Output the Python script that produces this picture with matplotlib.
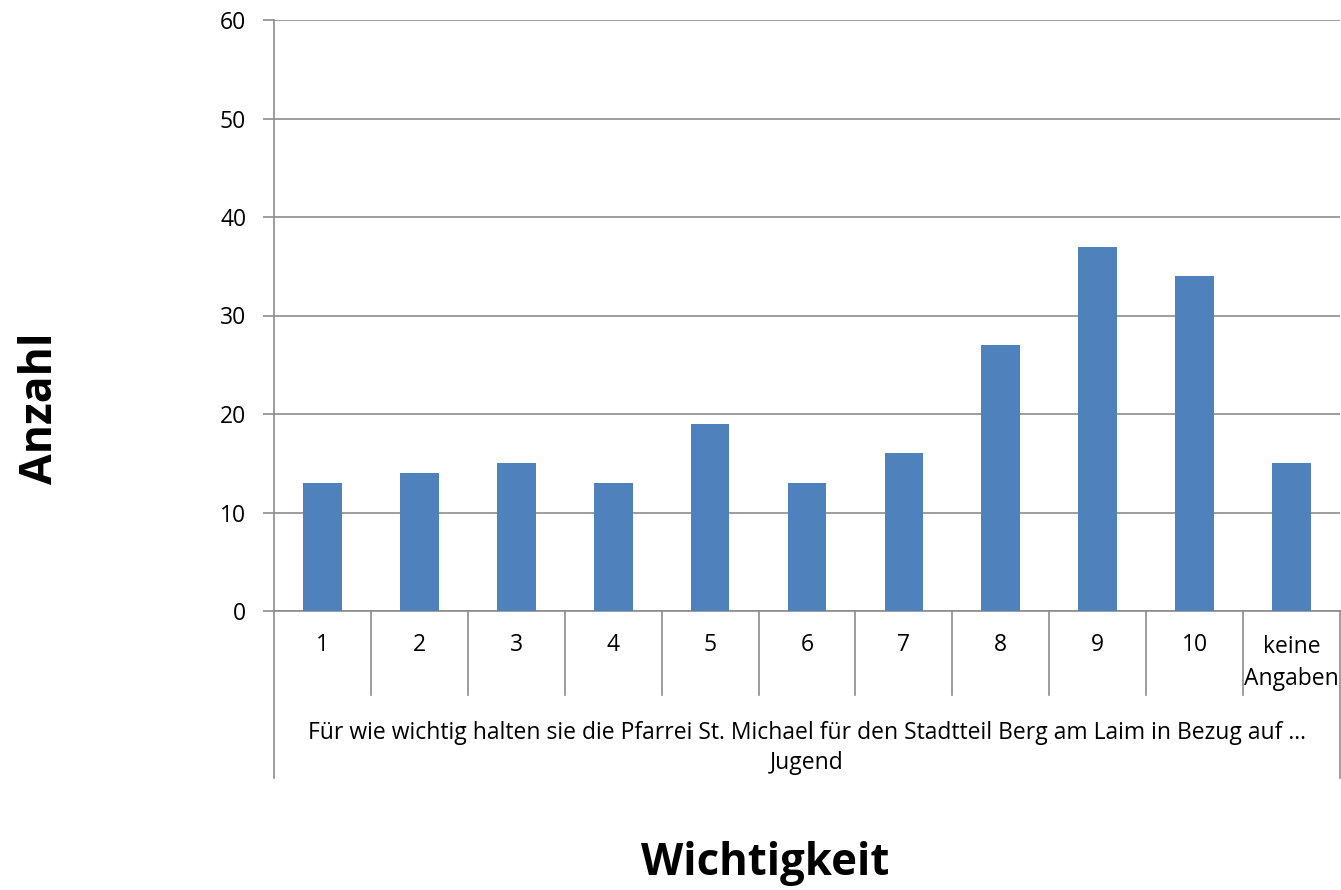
import matplotlib
matplotlib.use("Agg")
import matplotlib.pyplot as plt
from matplotlib.transforms import blended_transform_factory

plt.rcParams['font.family'] = ['Open Sans', 'DejaVu Sans']

categories = ["1", "2", "3", "4", "5", "6", "7", "8", "9", "10", "keine\nAngaben"]
values = [13, 14, 15, 13, 19, 13, 16, 27, 37, 34, 15]
yticks = [0, 10, 20, 30, 40, 50, 60]
group_label = "Für wie wichtig halten sie die Pfarrei St. Michael für den Stadtteil Berg am Laim in Bezug auf ...\nJugend"

W, H = 1341, 890
fig = plt.figure(figsize=(W / 100, H / 100), dpi=100)
ax = fig.add_axes([274 / W, 1 - 611 / H, (1340 - 274) / W, (611 - 20) / H])

grid_c = "#8c8c8c"
fs = 16.5
x = list(range(len(categories)))
ax.bar(x, values, width=0.4, color="#4f81bd", zorder=3)
ax.set_xlim(-0.5, len(categories) - 0.5)
ax.set_ylim(0, 60)
ax.set_yticks(yticks)
ax.set_yticklabels([str(t) for t in yticks], fontsize=fs)
ax.yaxis.grid(True, color=grid_c, linewidth=1.2, zorder=0)
ax.tick_params(axis='y', length=8, width=1.2, color=grid_c, pad=12, labelsize=fs)
ax.set_xticks([])
for s in ['top', 'right']:
    ax.spines[s].set_visible(False)
ax.spines['left'].set_color(grid_c)
ax.spines['left'].set_linewidth(1.2)
ax.spines['bottom'].set_color(grid_c)
ax.spines['bottom'].set_linewidth(1.2)

trans = blended_transform_factory(ax.transData, ax.transAxes)
ax_h_px = 611 - 20
def yax(py):
    return (611 - py) / ax_h_px

# category separators
for i in range(len(categories) - 1):
    ax.plot([i + 0.5, i + 0.5], [0, yax(695)], transform=trans, color=grid_c,
            lw=1.2, clip_on=False)
# outer lines
for xe in [-0.5, len(categories) - 0.5]:
    ax.plot([xe, xe], [0, yax(778)], transform=trans, color=grid_c,
            lw=1.2, clip_on=False)

for i, c in enumerate(categories):
    if "\n" in c:
        ax.text(i, yax(663), c, transform=trans, ha='center', va='center',
                fontsize=fs, linespacing=1.45)
    else:
        ax.text(i, yax(645), c, transform=trans, ha='center', va='center',
                fontsize=fs)

ax.text((len(categories) - 1) / 2, yax(748), group_label, transform=trans,
        ha='center', va='center', fontsize=fs, linespacing=1.3)

fig.text(40 / W, 1 - 408 / H, "Anzahl", rotation=90, ha='center', va='center',
         fontsize=32, fontweight='bold')
fig.text(765 / W, 1 - 863 / H, "Wichtigkeit", ha='center', va='center',
         fontsize=31.5, fontweight='bold')

fig.savefig("out.png", dpi=100)
